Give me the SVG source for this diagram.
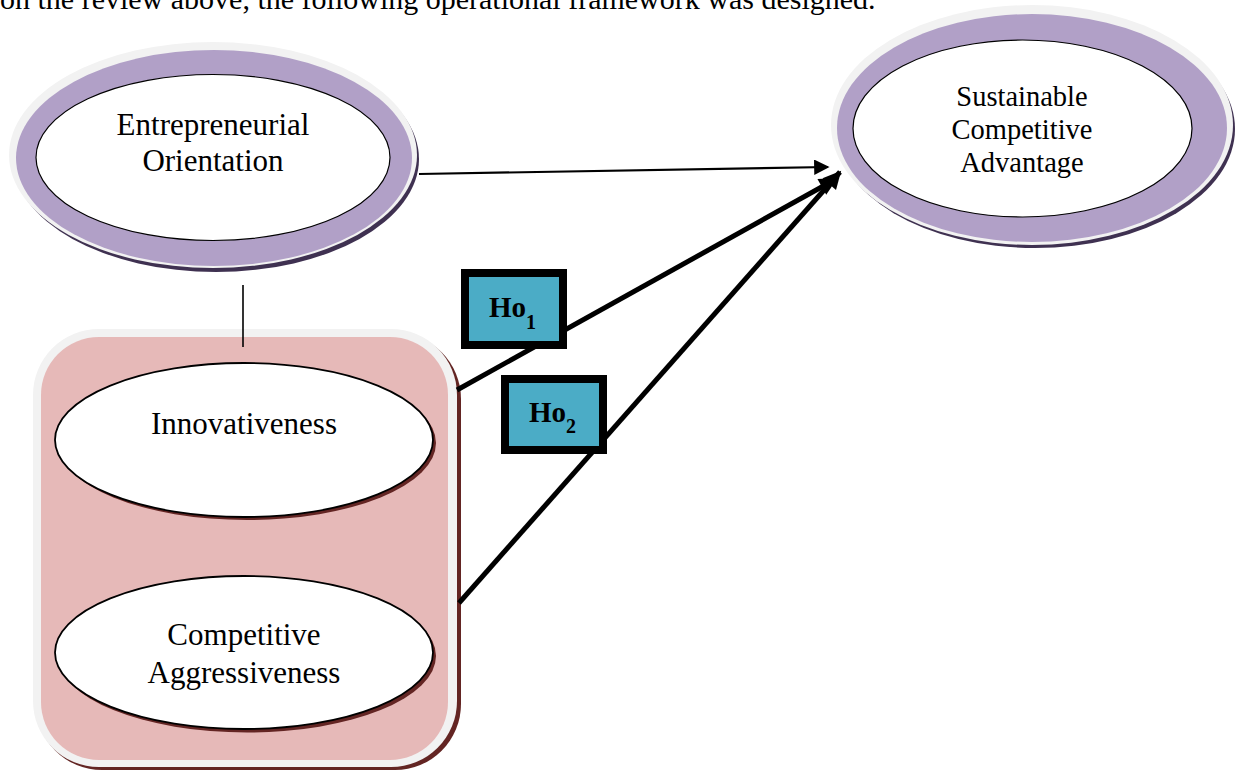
<svg xmlns="http://www.w3.org/2000/svg" width="1242" height="771" viewBox="0 0 1242 771">
<defs>
<style>
text{font-family:"Liberation Serif","Times New Roman",serif;fill:#000;text-anchor:middle}
.lbl{font-size:31px}
.sca{font-size:28.5px}
.ho{font-size:29px;font-weight:bold;text-anchor:start}
.sub{font-size:20px}
.pshadow{fill:#3f3151}
.glow{fill:#f2f2f2}
.ring{fill:#b1a0c7}
.white{fill:#fff;stroke:#000;stroke-width:1.2}
.rshadow{fill:#632523}
.inner{fill:#fff;stroke:#000;stroke-width:1.8}
.box{fill:#4bacc6;stroke:#000;stroke-width:8}
.thin{stroke:#000;stroke-width:2.2;fill:none}
.tie{stroke:#000;stroke-width:1.6;fill:none}
.thick{stroke:#000;stroke-width:5;fill:none}
</style>
<marker id="ah" viewBox="0 0 10 10" refX="9" refY="5" markerWidth="7" markerHeight="7" markerUnits="strokeWidth" orient="auto"><path d="M0,0 L10,5 L0,10 z" fill="#000"/></marker>
<marker id="ahT" viewBox="0 0 10 10" refX="9" refY="5" markerWidth="4.2" markerHeight="3.6" markerUnits="strokeWidth" orient="auto"><path d="M0,0 L10,5 L0,10 z" fill="#000"/></marker>
</defs>
<rect width="1242" height="771" fill="#fff"/>
<text x="0" y="9" style="font-size:30px;text-anchor:start">on the review above, the following operational framework was designed.</text>

<g id="eo">
<ellipse class="pshadow" cx="216" cy="159" rx="203" ry="113"/>
<ellipse class="glow" cx="213" cy="155" rx="204" ry="113"/>
<ellipse class="ring" cx="214" cy="158" rx="198" ry="108"/>
<ellipse class="white" cx="213" cy="157.5" rx="177" ry="83"/>
<text class="lbl" x="213" y="135">Entrepreneurial</text>
<text class="lbl" x="213" y="171">Orientation</text>
</g>

<g id="sca">
<ellipse class="pshadow" cx="1035" cy="129" rx="200" ry="119"/>
<ellipse class="glow" cx="1032" cy="125" rx="201" ry="120"/>
<ellipse class="ring" cx="1032" cy="128" rx="195" ry="114"/>
<ellipse class="white" cx="1022.5" cy="128.5" rx="169.5" ry="88.5"/>
<text class="sca" x="1022" y="106">Sustainable</text>
<text class="sca" x="1022" y="139">Competitive</text>
<text class="sca" x="1022" y="172">Advantage</text>
</g>

<g id="eo-dimensions">
<rect class="rshadow" x="36" y="333" width="425" height="437" rx="66"/>
<rect class="glow" x="33" y="329" width="424" height="438" rx="66"/>
<rect x="41" y="337" width="407" height="423" rx="58" fill="#e6b9b8"/>
</g>

<g id="connectors">
<line class="tie" x1="243" y1="285" x2="243" y2="347"/>
<line class="thin" x1="419" y1="174" x2="828" y2="167" marker-end="url(#ah)"/>
<line class="thick" x1="457" y1="390" x2="836" y2="179" marker-end="url(#ahT)"/>
<line class="thick" x1="459" y1="603" x2="840" y2="172" marker-end="url(#ahT)"/>
</g>

<g id="innovativeness">
<ellipse class="rshadow" cx="247" cy="443" rx="189" ry="77"/>
<ellipse class="inner" cx="244" cy="440" rx="189" ry="77"/>
<text class="lbl" x="244" y="434">Innovativeness</text>
</g>

<g id="competitive-aggressiveness">
<ellipse class="rshadow" cx="247" cy="656" rx="189" ry="76.5"/>
<ellipse class="inner" cx="244" cy="652.5" rx="189" ry="76.5"/>
<text class="lbl" x="244" y="645">Competitive</text>
<text class="lbl" x="244" y="683">Aggressiveness</text>
</g>

<g id="ho1">
<rect class="box" x="465" y="273" width="98" height="72"/>
<text class="ho" x="489" y="317">Ho<tspan class="sub" dy="12">1</tspan></text>
</g>

<g id="ho2">
<rect class="box" x="505" y="379" width="98" height="71"/>
<text class="ho" x="529" y="422">Ho<tspan class="sub" dy="11">2</tspan></text>
</g>
</svg>
